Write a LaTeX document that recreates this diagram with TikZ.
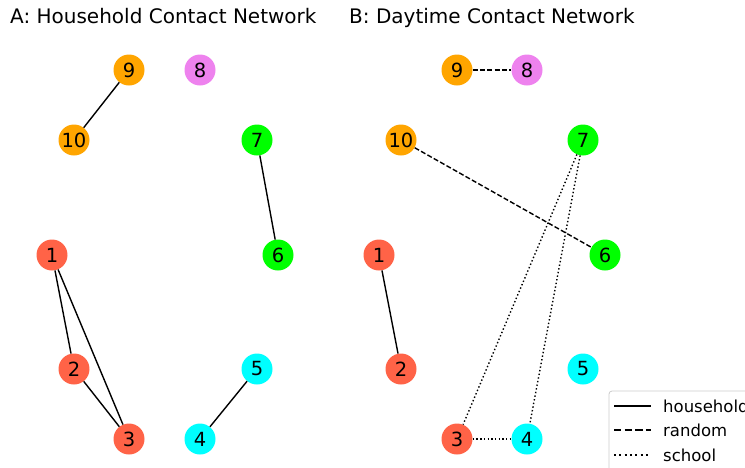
\documentclass[tikz,border=0pt]{standalone}
\usepackage{fontspec}
\setmainfont{DejaVu Sans}
\begin{document}
\begin{tikzpicture}[x=1pt,y=-1pt,
  vtx/.style={circle,minimum size=31pt,inner sep=0pt,font=\fontsize{19.5}{19.5}\selectfont},
  hh/.style={line width=1.4pt},
  rnd/.style={line width=1.4pt,dash pattern=on 5pt off 2.3pt},
  sch/.style={line width=1.4pt,dash pattern=on 1.4pt off 2.3pt},
  lhh/.style={line width=2pt},
  lrnd/.style={line width=2pt,dash pattern=on 7.4pt off 3.2pt},
  lsch/.style={line width=2pt,dash pattern=on 2pt off 3.3pt},
  ttl/.style={anchor=base west,inner sep=0pt,font=\fontsize{20}{20}\selectfont},
  ltxt/.style={anchor=west,inner sep=0pt,font=\fontsize{16.5}{16.5}\selectfont}]
\definecolor{ctomato}{HTML}{FF6347}
\definecolor{corange}{HTML}{FFA500}
\definecolor{cviolet}{HTML}{EE82EE}
\definecolor{clime}{HTML}{00FF00}
\definecolor{ccyan}{HTML}{00FFFF}
\useasboundingbox (0,0) rectangle (745,467);
\clip (0,0) rectangle (745,467);

% titles
\node[ttl] (ta) at (10,23) {A: Household Contact Network};
\node[ttl] (tb) at (349,23) {B: Daytime Contact Network};

% panel A
\begin{scope}
\node[vtx,fill=corange] (a9) at (129,70) {9};
\node[vtx,fill=cviolet] (a8) at (200,70) {8};
\node[vtx,fill=corange] (a10) at (74,140) {10};
\node[vtx,fill=clime] (a7) at (257,140) {7};
\node[vtx,fill=ctomato] (a1) at (52,255) {1};
\node[vtx,fill=clime] (a6) at (278,255) {6};
\node[vtx,fill=ctomato] (a2) at (74,369) {2};
\node[vtx,fill=ccyan] (a5) at (257,369) {5};
\node[vtx,fill=ctomato] (a3) at (129,439) {3};
\node[vtx,fill=ccyan] (a4) at (200,439) {4};
\draw[hh] (a9) -- (a10);
\draw[hh] (a7) -- (a6);
\draw[hh] (a1) -- (a2);
\draw[hh] (a1) -- (a3);
\draw[hh] (a2) -- (a3);
\draw[hh] (a5) -- (a4);
\end{scope}

% panel B
\begin{scope}
\node[vtx,fill=corange] (b9) at (457,70) {9};
\node[vtx,fill=cviolet] (b8) at (527,70) {8};
\node[vtx,fill=corange] (b10) at (401,140) {10};
\node[vtx,fill=clime] (b7) at (583,140) {7};
\node[vtx,fill=ctomato] (b1) at (379,255) {1};
\node[vtx,fill=clime] (b6) at (605,255) {6};
\node[vtx,fill=ctomato] (b2) at (401,369) {2};
\node[vtx,fill=ccyan] (b5) at (583,369) {5};
\node[vtx,fill=ctomato] (b3) at (457,439) {3};
\node[vtx,fill=ccyan] (b4) at (527,439) {4};
\draw[rnd] (b9) -- (b8);
\draw[rnd] (b10) -- (b6);
\draw[hh] (b1) -- (b2);
\draw[sch] (b7) -- (b3);
\draw[sch] (b7) -- (b4);
\draw[sch] (b3) -- (b4);
\end{scope}

% legend
\draw[draw=black!20,fill=white,rounded corners=3pt,line width=0.8pt] (609,391) rectangle (760,480);
\coordinate (l1a) at (614,406); \coordinate (l1b) at (651,406);
\coordinate (l2a) at (614,430); \coordinate (l2b) at (651,430);
\coordinate (l3a) at (614,455); \coordinate (l3b) at (651,455);
\draw[lhh] (l1a) -- (l1b);
\draw[lrnd] (l2a) -- (l2b);
\draw[lsch] (l3a) -- (l3b);
\node[ltxt] (lt1) at (663,406) {household};
\node[ltxt] (lt2) at (663,430) {random};
\node[ltxt] (lt3) at (663,455) {school};
\end{tikzpicture}
\end{document}
